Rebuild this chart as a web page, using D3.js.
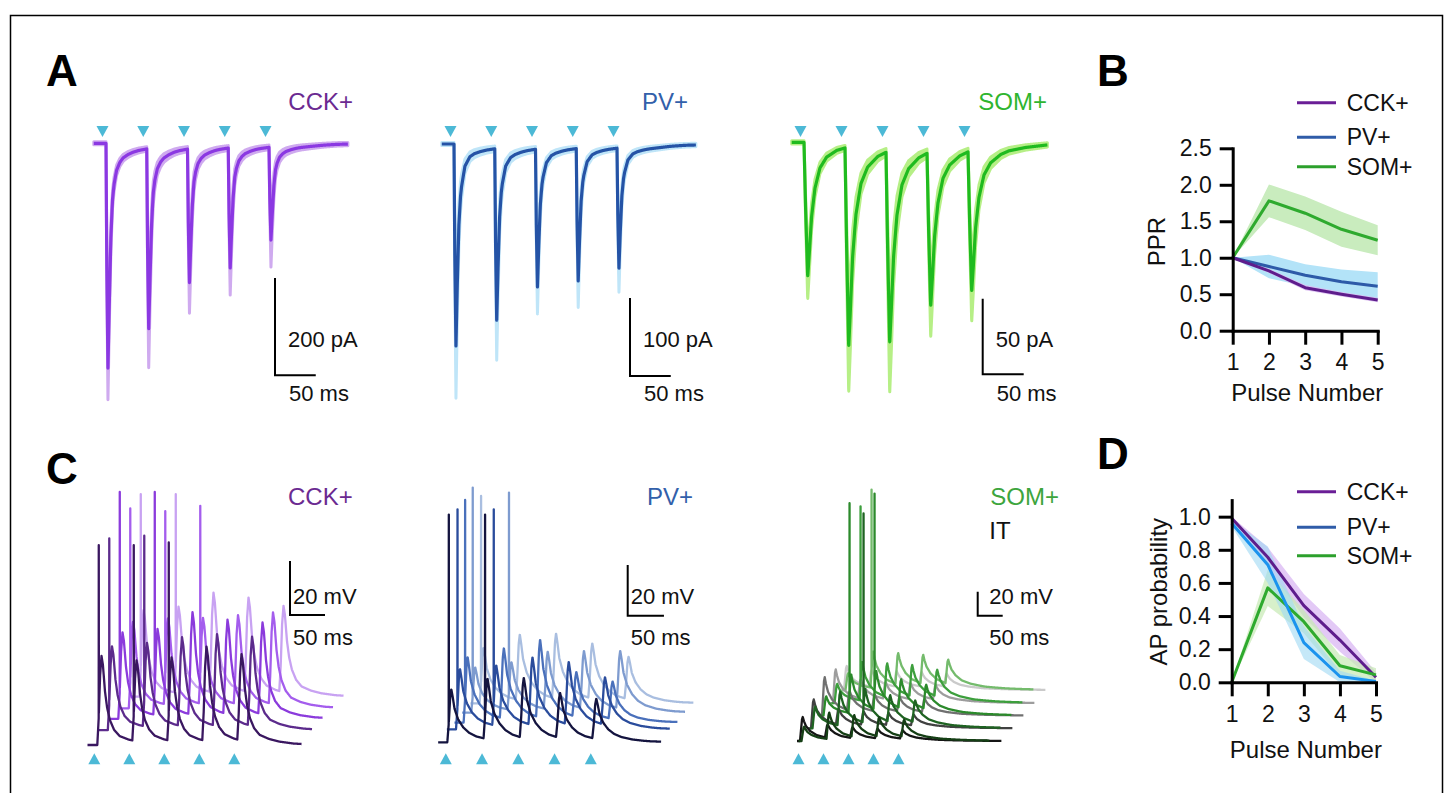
<!DOCTYPE html>
<html><head><meta charset="utf-8">
<script src="https://cdn.jsdelivr.net/npm/d3@7"></script>
<style>
html,body{margin:0;padding:0;background:#fff;}
svg{display:block;font-family:"Liberation Sans",Arial,Helvetica,sans-serif;}
</style></head><body>
<svg id="fig" width="1447" height="793"></svg>
<script>
// ================= DATA =================
const stimTimes = [0, 50, 100, 150, 200];      // ms (20 Hz train)
const pulseNumbers = [1, 2, 3, 4, 5];

// ---- Panel A: mean EPSC amplitude (pA) per pulse and SEM (pA)
const cckA_amp = [462, 370, 275, 247, 191];
const cckA_sem = [62, 76, 58, 51, 51];
const pvA_amp  = [259, 220, 177, 170, 154];
const pvA_sem  = [65, 48, 31, 31, 28];
const somA_amp = [89, 132, 127, 102, 93];
const somA_sem = [14, 29, 31, 18, 18];

// EPSC waveform shapes: [ms after stim, fraction of peak]
const cckA_kernel = [[0,0],[1,0.55],[2.4,1],[4,0.72],[6,0.42],[8,0.25],[10,0.18],[13,0.12],[17,0.085],[21,0.065],[27,0.05],[33,0.04],[40,0.032],[50,0.025],[65,0.016],[85,0.008],[120,0.003],[180,0]];
const pvA_kernel  = [[0,0],[1,0.55],[2.4,1],[4,0.7],[6,0.4],[8,0.26],[9.3,0.21],[13.4,0.11],[19.5,0.063],[25,0.048],[32,0.038],[40,0.03],[48,0.025],[65,0.015],[85,0.008],[120,0.003],[180,0]];
const somA_kernel = [[0,0],[2,0.5],[4.5,1],[6.5,0.82],[9.3,0.55],[13.4,0.34],[19.5,0.19],[27.6,0.11],[40,0.06],[50,0.042],[70,0.024],[100,0.012],[150,0.004],[200,0]];

// ---- Panel B: paired-pulse ratio
const pprCCK = [1, 0.82, 0.59, 0.50, 0.42];
const pprCCK_sem = [0, 0.03, 0.035, 0.03, 0.03];
const pprPV  = [1, 0.88, 0.76, 0.67, 0.61];
const pprPV_sem  = [0, 0.16, 0.15, 0.17, 0.19];
const pprSOM = [1, 1.78, 1.61, 1.39, 1.24];
const pprSOM_sem = [0, 0.225, 0.23, 0.24, 0.205];
const pprTicks = [0, 0.5, 1.0, 1.5, 2.0, 2.5];

// ---- Panel C: EPSP amplitude (mV) per pulse, spike peaks (mV above baseline, 0 = none)
const cckC_epsp  = [[33,30,31,35,32],[31,31,33,34,33],[32,32,38,35,34],[32,32,32,33,34],[32,32,37,35,32]];
const cckC_spike = [[74,74,75,0,0],[71,72,0,0,0],[84,84,0,0,0],[74,73,75,0,0],[75,75,0,0,0]];
const cckC_dt = [0, 15, 30, 45, 60];          // ms offset per sweep
const cckC_dv = [0, 5.5, 9.7, 13.6, 17.9];    // mV offset per sweep

const pvC_epsp  = [[21,24,24,18,16],[24,24,27,25,19],[26,28,31,18,15],[18,19,23,23,23],[22,26,26,22,17]];
const pvC_spike = [[90,90,0,0,0],[87,87,0,0,0],[88,0,0,0,0],[89,87,0,0,0],[82,0,0,0,0]];
const pvC_dt = [0, 12, 22.5, 33, 44.5];
const pvC_dv = [0, 5.1, 7.8, 11.7, 15.4];

const itC_epsp   = [[20,11,9,8,7],[24,13,11,10,9],[32,16,14,12,11],[28,16,14,13,12],[20,14,13,12,11]];
const somC_epsp  = [[12,22,18,16,14],[18,28,28,22,18],[16,32,32,24,20],[16,32,28,26,22],[14,30,26,24,20]];
const somC_spike = [[0,0,0,0,0],[0,0,179,0,0],[0,177,185,0,0],[0,164,0,0,0],[0,167,0,0,0]];
const somC_dt = [0, 22, 44, 66, 88];
const somC_dv = [0, 10.6, 21.2, 31.6, 42.5];

const cckC_kernel = [[0,0],[2,0.3],[4,0.78],[6,1],[8,0.9],[11,0.6],[14,0.42],[18,0.28],[24,0.17],[32,0.1],[45,0.06],[60,0.035],[80,0.015],[110,0.004],[150,0]];
const pvC_kernel  = [[0,0],[2,0.35],[4,0.85],[5.5,1],[7.5,0.85],[10,0.63],[15,0.43],[22,0.28],[30,0.18],[40,0.11],[55,0.06],[80,0.025],[120,0]];
const somC_kernel = [[0,0],[2,0.45],[4,0.9],[5.5,1],[8,0.82],[12,0.62],[20,0.42],[33,0.25],[50,0.15],[80,0.07],[120,0.035],[200,0.01],[280,0]];

// ---- Panel D: AP probability
const apCCK = [0.99, 0.755, 0.463, 0.255, 0.03];
const apCCK_sem = [0.01, 0.06, 0.07, 0.07, 0.03];
const apPV  = [0.96, 0.71, 0.24, 0.035, 0.005];
const apPV_sem  = [0.02, 0.11, 0.10, 0.035, 0.005];
const apSOM = [0.0, 0.57, 0.366, 0.10, 0.045];
const apSOM_sem = [0, 0.11, 0.07, 0.065, 0.04];
const apTicks = [0, 0.2, 0.4, 0.6, 0.8, 1.0];

const groupNames = ["CCK+", "PV+", "SOM+"];

// ================= DRAWING =================
const FONT = '"Liberation Sans",Arial,Helvetica,sans-serif';
const svg = d3.select("#fig");
svg.append("rect").attr("width",1447).attr("height",793).attr("fill","#fff");
svg.append("rect").attr("x",10.5).attr("y",15.5).attr("width",1432).attr("height",800)
  .attr("fill","none").attr("stroke","#000").attr("stroke-width",1.5);

function kernelFn(k){
  return d3.scaleLinear().domain(k.map(d=>d[0])).range(k.map(d=>d[1])).clamp(true);
}
function text(g, x, y, s, opt={}){
  return g.append("text").attr("x",x).attr("y",y).text(s)
    .attr("font-size",opt.size||23).attr("fill",opt.fill||"#111")
    .attr("font-weight",opt.weight||"normal")
    .attr("text-anchor",opt.anchor||"start").attr("font-family",FONT);
}
const triColor = "#4cb9d6";
function triangle(g, cx, yTip, down){
  const w = 6, h = 11;
  const p = down ? [[cx-w,yTip-h],[cx+w,yTip-h],[cx,yTip]] : [[cx-w,yTip+h],[cx+w,yTip+h],[cx,yTip]];
  g.append("path").attr("d", d3.line()(p)+"Z").attr("fill",triColor);
}
function scaleBar(g, x, yTop, yBot, xRight){
  g.append("path").attr("d",`M${x},${yTop}V${yBot}H${xRight}`)
    .attr("fill","none").attr("stroke","#000").attr("stroke-width",2);
}

// ---------- Panel A ----------
const panelA = [
  {amp:cckA_amp, sem:cckA_sem, kernel:cckA_kernel, x0:106, pxPerMs:0.815, y0:143.3, pxPerPA:0.4865, floor:3,
   line:"#8b38e2", band:"#cfaaef", label:groupNames[0], labelColor:"#6b2a91", labelX:353,
   bar:{x:275, pA:200, label:"200 pA"}},
  {amp:pvA_amp, sem:pvA_sem, kernel:pvA_kernel, x0:454, pxPerMs:0.815, y0:144, pxPerPA:0.78, floor:2,
   line:"#2553a6", band:"#bfe5f8", label:groupNames[1], labelColor:"#3260aa", labelX:688,
   bar:{x:630, pA:100, label:"100 pA"}},
  {amp:somA_amp, sem:somA_sem, kernel:somA_kernel, x0:804, pxPerMs:0.82, y0:142.3, pxPerPA:1.513, floor:1.1,
   line:"#1fbb1f", band:"#b6ef86", label:groupNames[2], labelColor:"#2fb52f", labelX:1047,
   bar:{x:982.7, pA:50, label:"50 pA"}}
];
panelA.forEach(cfg=>{
  const g = svg.append("g");
  const xs = d3.scaleLinear().domain([0,50]).range([cfg.x0, cfg.x0+50*cfg.pxPerMs]);
  const ys = d3.scaleLinear().domain([0,100]).range([cfg.y0, cfg.y0+100*cfg.pxPerPA]);
  const k = kernelFn(cfg.kernel);
  const pts = d3.range(-15, 297, 0.2).map(t=>({
    t,
    m: d3.sum(stimTimes, (s,i)=>cfg.amp[i]*k(t-s)),
    s: d3.sum(stimTimes, (s,i)=>cfg.sem[i]*k(t-s)) + cfg.floor
  }));
  g.append("path").datum(pts).attr("fill",cfg.band).attr("stroke",cfg.band).attr("stroke-width",3)
    .attr("stroke-linejoin","round")
    .attr("d", d3.area().x(d=>xs(d.t)).y0(d=>ys(d.m-d.s)).y1(d=>ys(d.m+d.s)));
  g.append("path").datum(pts).attr("fill","none").attr("stroke",cfg.line).attr("stroke-width",3.2)
    .attr("stroke-linejoin","round")
    .attr("d", d3.line().x(d=>xs(d.t)).y(d=>ys(d.m)));
  stimTimes.forEach(s=>triangle(g, xs(s)-3.5, 137, true));
  text(g, cfg.labelX, 110, cfg.label, {size:24, fill:cfg.labelColor, anchor:"end"});
  const yBot = cfg.y0 + 232;
  const barH = ys(cfg.bar.pA) - ys(0);
  const barW = xs(50) - xs(0);
  scaleBar(g, cfg.bar.x, yBot - barH, yBot, cfg.bar.x + barW);
  text(g, cfg.bar.x + 13, 347, cfg.bar.label, {size:22});
  text(g, cfg.bar.x + 14, 400.7, "50 ms", {size:22});
});

// ---------- Panel C ----------
function buildTrace(amps, spikes, k, tStart, tEnd, step){
  const pts = d3.range(tStart, tEnd, step).map(t=>({t, v:d3.sum(stimTimes,(s,i)=>amps[i]*k(t-s))}));
  spikes.forEach((S,i)=>{ if(S>0) pts.push({t:stimTimes[i]+2.1, v:S}); });
  pts.sort((a,b)=>a.t-b.t);
  return pts;
}
function drawTraceC(g, xs, ys, pts, dt, dv, color){
  g.append("path").datum(pts).attr("fill","none").attr("stroke",color).attr("stroke-width",2.3)
    .attr("stroke-linejoin","round")
    .attr("d", d3.line().x(d=>xs(d.t+dt)).y(d=>ys(d.v+dv)));
}
const panelC = [
  {epsp:cckC_epsp, spike:cckC_spike, dt:cckC_dt, dv:cckC_dv, kernel:cckC_kernel,
   x0:97.3, pxPerMs:0.7, y0:745, pxPerMV:2.7, tStart:-14, tEnd:292, triOff:-3,
   colors:["#3a1760","#5c2b8c","#8b3bdc","#a45ded","#c8a2f2"],
   label:groupNames[0], labelColor:"#6b2a91", labelX:352.7, bar:{x:290, y:615}},
  {epsp:pvC_epsp, spike:pvC_spike, dt:pvC_dt, dv:pvC_dv, kernel:pvC_kernel,
   x0:447.3, pxPerMs:0.725, y0:742.3, pxPerMV:2.53, tStart:-12.6, tEnd:295, triOff:-1.5,
   colors:["#14143f","#2a4c9c","#4a70bb","#7e9bcf","#a9bee0"],
   label:groupNames[1], labelColor:"#3260aa", labelX:693, bar:{x:627.7, y:615.7}}
];
panelC.forEach(cfg=>{
  const g = svg.append("g");
  const xs = d3.scaleLinear().domain([0,50]).range([cfg.x0, cfg.x0+50*cfg.pxPerMs]);
  const ys = d3.scaleLinear().domain([0,20]).range([cfg.y0, cfg.y0-20*cfg.pxPerMV]);
  const k = kernelFn(cfg.kernel);
  for(let i=cfg.epsp.length-1;i>=0;i--){
    const pts = buildTrace(cfg.epsp[i], cfg.spike[i], k, cfg.tStart, cfg.tEnd, 0.25);
    drawTraceC(g, xs, ys, pts, cfg.dt[i], cfg.dv[i], cfg.colors[i]);
  }
  stimTimes.forEach(s=>triangle(g, xs(s)+cfg.triOff, 753.3, false));
  text(g, cfg.labelX, 505, cfg.label, {size:24, fill:cfg.labelColor, anchor:"end"});
  const barH = ys(0)-ys(20), barW = xs(50)-xs(0);
  scaleBar(g, cfg.bar.x, cfg.bar.y-barH, cfg.bar.y, cfg.bar.x+barW);
  text(g, cfg.bar.x+3, 603.5, "20 mV", {size:22});
  text(g, cfg.bar.x+3, 644.5, "50 ms", {size:22});
});
// SOM / IT panel
(function(){
  const g = svg.append("g");
  const x0 = 800, pxPerMs = 0.5, y0 = 741, pxPerMV = 1.2;
  const xs = d3.scaleLinear().domain([0,50]).range([x0, x0+50*pxPerMs]);
  const ys = d3.scaleLinear().domain([0,20]).range([y0, y0-20*pxPerMV]);
  const k = kernelFn(somC_kernel);
  const itColors  = ["#151515","#414141","#707070","#9d9d9d","#cacaca"];
  const somColors = ["#153f15","#1f6322","#2c8a2c","#3d9f3d","#74bb6c"];
  for(let i=itC_epsp.length-1;i>=0;i--){
    const it = buildTrace(itC_epsp[i], [0,0,0,0,0], k, -6, 403, 0.25);
    drawTraceC(g, xs, ys, it, somC_dt[i], somC_dv[i], itColors[i]);
    const sm = buildTrace(somC_epsp[i], somC_spike[i], k, -6, 376, 0.25);
    drawTraceC(g, xs, ys, sm, somC_dt[i]+3, somC_dv[i], somColors[i]);
  }
  stimTimes.forEach(s=>triangle(g, xs(s)-1.5, 753.3, false));
  text(g, 1059, 505, groupNames[2], {size:24, fill:"#3da53d", anchor:"end"});
  text(g, 989.3, 538.5, "IT", {size:24, fill:"#111"});
  const barH = ys(0)-ys(20), barW = xs(50)-xs(0);
  scaleBar(g, 977.7, 615.7-barH, 615.7, 977.7+barW);
  text(g, 989.3, 603.5, "20 mV", {size:22});
  text(g, 989.3, 644.5, "50 ms", {size:22});
})();

// ---------- Panels B & D ----------
function styleAxis(g){
  g.attr("font-size",null).attr("font-family",null);
  g.select(".domain").attr("stroke","#000").attr("stroke-width",3).attr("stroke-linecap","square");
  g.selectAll(".tick line").attr("stroke","#000").attr("stroke-width",3);
  g.selectAll(".tick text").attr("font-size",23).attr("fill","#111").attr("font-family",FONT);
}
function linePanel(cfg){
  const g = svg.append("g");
  const x = d3.scaleLinear().domain([1,5]).range(cfg.xr);
  const y = d3.scaleLinear().domain(cfg.yd).range(cfg.yr);
  cfg.series.forEach(s=>{
    g.append("path").datum(pulseNumbers).attr("fill",s.band).attr("fill-opacity",s.op||0.75)
      .attr("d", d3.area().x(d=>x(d)).y0((d,i)=>y(Math.max(0,s.v[i]-s.e[i]))).y1((d,i)=>y(s.v[i]+s.e[i])));
  });
  cfg.series.forEach(s=>{
    g.append("path").datum(pulseNumbers).attr("fill","none").attr("stroke",s.line).attr("stroke-width",3)
      .attr("stroke-linejoin","round")
      .attr("d", d3.line().x(d=>x(d)).y((d,i)=>y(s.v[i])));
  });
  const gx = g.append("g").attr("transform",`translate(0,${y(0)})`)
    .call(d3.axisBottom(x).tickValues(pulseNumbers).tickFormat(d3.format("d")).tickSize(14).tickPadding(9).tickSizeOuter(0));
  styleAxis(gx);
  const gy = g.append("g").attr("transform",`translate(${x(1)},0)`)
    .call(d3.axisLeft(y).tickValues(cfg.ticks).tickFormat(d3.format(".1f")).tickSize(13).tickPadding(8).tickSizeOuter(0));
  styleAxis(gy);
  text(g, (cfg.xr[0]+cfg.xr[1])/2 + 2, cfg.xlabY, "Pulse Number", {size:24, anchor:"middle"});
  g.append("text").attr("transform",`translate(${cfg.ylab[0]},${cfg.ylab[1]}) rotate(-90)`)
    .attr("text-anchor","middle").attr("dominant-baseline","central")
    .attr("font-size",24).attr("font-family",FONT).attr("fill","#111").text(cfg.ylabel);
  cfg.legend.forEach((l,i)=>{
    g.append("line").attr("x1",1297).attr("x2",1336).attr("y1",cfg.legY[i]).attr("y2",cfg.legY[i])
      .attr("stroke",l.c).attr("stroke-width",3);
    g.append("text").attr("x",1346.7).attr("y",cfg.legY[i]).attr("dominant-baseline","central")
      .attr("font-size",23).attr("font-family",FONT).attr("fill","#111").text(l.n);
  });
}
const legendItems = [{n:groupNames[0], c:"#6a1e96"},{n:groupNames[1], c:"#2f5ca8"},{n:groupNames[2], c:"#2ca02c"}];
linePanel({
  xr:[1232.7,1377.7], yd:[0,2.5], yr:[330.7,148.3], ticks:pprTicks,
  series:[
    {v:pprSOM, e:pprSOM_sem, line:"#2eaa2e", band:"#c9ecbe", op:1},
    {v:pprPV, e:pprPV_sem, line:"#2d5aa8", band:"#b3e3f8", op:1},
    {v:pprCCK, e:pprCCK_sem, line:"#5e1d8c", band:"#dcbff2", op:0.9}
  ],
  xlabY:401, ylab:[1156.7,241.7], ylabel:"PPR", legend:legendItems, legY:[102.7,137.3,166.7]
});
linePanel({
  xr:[1231.7,1376], yd:[0,1.1], yr:[682.3,500.1], ticks:apTicks,
  series:[
    {v:apCCK, e:apCCK_sem, line:"#5e1d8c", band:"#d7b2f2", op:0.7},
    {v:apSOM, e:apSOM_sem, line:"#2eaa2e", band:"#c6eab4", op:0.7},
    {v:apPV, e:apPV_sem, line:"#1b93ee", band:"#9fd9f3", op:0.6}
  ],
  xlabY:758.3, ylab:[1158,591.7], ylabel:"AP probability", legend:legendItems, legY:[491.7,527.3,555.7]
});

// panel letters
[["A",46,86],["B",1097,86],["C",46,484],["D",1097,469]].forEach(([s,x,y])=>
  text(svg, x, y, s, {size:44, weight:"bold", fill:"#000"}));
</script>
</body></html>
